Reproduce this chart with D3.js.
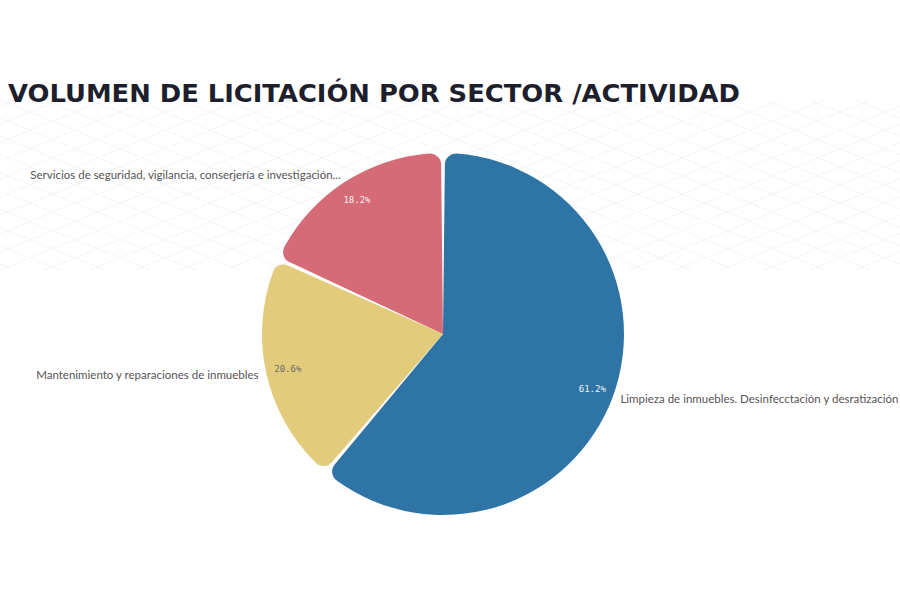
<!DOCTYPE html>
<html><head><meta charset="utf-8">
<script src="https://cdn.jsdelivr.net/npm/d3@7"></script>
<style>html,body{margin:0;padding:0;background:#fff;}svg{display:block;}</style>
</head><body>
<svg id="chart" width="900" height="600"></svg>
<script>
const categories = [
  "Limpieza de inmuebles. Desinfecctación y desratización",
  "Mantenimiento y reparaciones de inmuebles",
  "Servicios de seguridad,  vigilancia,  conserjería e investigación..."
];
const values = [61.2, 20.6, 18.2];
const pctLabels = ["61.2%", "20.6%", "18.2%"];
const colors = ["#2e75a6", "#e2cb7b", "#d56b77"];
const pctColors = ["#f2f2f2", "#6b6b6b", "#f6f0f0"];

const svg = d3.select("#chart");
const W = 900, H = 600;

// faint background grid
const bg = svg.append("g").attr("stroke", "#f3f5f7").attr("stroke-width", 1).attr("fill", "none");
for (let i = -20; i < 30; i++) {
  const x0 = i * 45;
  bg.append("line").attr("x1", x0).attr("y1", 100).attr("x2", x0 + 420).attr("y2", 270);
  bg.append("line").attr("x1", x0).attr("y1", 270).attr("x2", x0 + 420).attr("y2", 100);
}
bg.append("rect").attr("x", 0).attr("y", 0).attr("width", W).attr("height", 100).attr("fill", "#fff").attr("stroke", "none");

// title
svg.append("text")
  .attr("x", 8).attr("y", 102)
  .attr("font-family", "DejaVu Sans").attr("font-weight", "bold")
  .attr("font-size", 25).attr("fill", "#1d1f2c")
  .attr("textLength", 732).attr("lengthAdjust", "spacingAndGlyphs")
  .text("VOLUMEN DE LICITACIÓN POR SECTOR /ACTIVIDAD");

const cx = 443, cy = 334, R = 181;
const g = svg.append("g").attr("transform", `translate(${cx},${cy})`);

const data = categories.map((c, i) => ({cat: c, value: values[i], pct: pctLabels[i], color: colors[i], pc: pctColors[i]}));
const pie = d3.pie().sort(null).value(d => d.value);
const arcs = pie(data);
const arc = d3.arc().innerRadius(0).outerRadius(R).cornerRadius(11).padAngle(0.022);
const pctArc = d3.arc().innerRadius(159).outerRadius(159);
const lblArc = d3.arc().innerRadius(189).outerRadius(189);

g.selectAll("path.slice").data(arcs).join("path")
  .attr("class", "slice").attr("d", arc).attr("fill", d => d.data.color);

g.selectAll("text.pct").data(arcs).join("text")
  .attr("class", "pct")
  .attr("transform", d => `translate(${pctArc.centroid(d)})`)
  .attr("text-anchor", "middle").attr("dy", "0.35em")
  .attr("font-family", "DejaVu Sans Mono").attr("font-size", 9)
  .attr("fill", d => d.data.pc)
  .text(d => d.data.pct);

g.selectAll("text.lbl").data(arcs).join("text")
  .attr("class", "lbl")
  .attr("transform", d => `translate(${lblArc.centroid(d)})`)
  .attr("text-anchor", d => ((d.startAngle + d.endAngle) / 2 < Math.PI) ? "start" : "end")
  .attr("dy", "0.35em")
  .attr("font-family", "Lato").attr("font-size", 11.5)
  .attr("fill", "#555")
  .text(d => d.data.cat);
</script>
</body></html>
